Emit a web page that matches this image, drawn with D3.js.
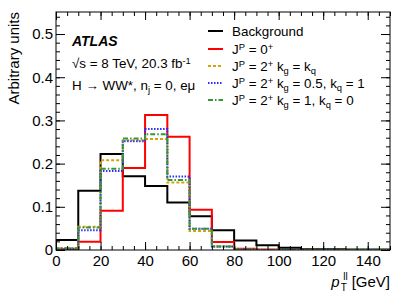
<!DOCTYPE html>
<html>
<head>
<meta charset="utf-8">
<script src="https://cdn.jsdelivr.net/npm/d3@7"></script>
<style>
  body { margin: 0; background: #fff; }
  text { font-family: "Liberation Sans", Arial, Helvetica, sans-serif; fill: #000; }
</style>
</head>
<body>
<script>
// bin edges of the pT(ll) histogram (GeV)
var binEdges = [0, 10, 20, 30, 40, 50, 60, 70, 80, 90, 100, 110, 120, 130, 140, 150];

// normalised contents per bin
var background = [0.023, 0.137, 0.222, 0.171, 0.148, 0.110, 0.078, 0.046, 0.022, 0.011, 0.005, 0.002, 0.002, 0.001, 0.001];
var spin0 = [0.002, 0.019, 0.091, 0.190, 0.3125, 0.262, 0.093, 0.0185, 0.003, 0.001, 0, 0, 0, 0, 0];
var spin2kgkq = [0.004, 0.054, 0.208, 0.254, 0.257, 0.156, 0.044, 0.008, 0.001, 0, 0, 0, 0, 0, 0];
var spin2kg05 = [0.003, 0.046, 0.183, 0.252, 0.280, 0.170, 0.049, 0.008, 0.001, 0, 0, 0, 0, 0, 0];
var spin2kg1 = [0.004, 0.052, 0.188, 0.258, 0.268, 0.162, 0.049, 0.008, 0.001, 0, 0, 0, 0, 0, 0];

var xTicks = [0, 20, 40, 60, 80, 100, 120, 140];
var yTicks = [0, 0.1, 0.2, 0.3, 0.4, 0.5];

// legend labels: [text, "", "sup" or "sub"]
var legendLabels = [
  [["Background", ""]],
  [["J", ""], ["P", "sup"], [" = 0", ""], ["+", "sup"]],
  [["J", ""], ["P", "sup"], [" = 2", ""], ["+", "sup"], [" k", ""], ["g", "sub"], [" = k", ""], ["q", "sub"]],
  [["J", ""], ["P", "sup"], [" = 2", ""], ["+", "sup"], [" k", ""], ["g", "sub"], [" = 0.5, k", ""], ["q", "sub"], [" = 1", ""]],
  [["J", ""], ["P", "sup"], [" = 2", ""], ["+", "sup"], [" k", ""], ["g", "sub"], [" = 1, k", ""], ["q", "sub"], [" = 0", ""]]
];

var series = [background, spin0, spin2kgkq, spin2kg05, spin2kg1];
var colors = ["#000000", "#ff0000", "#d4a20c", "#2b2bff", "#339933"];
var dashes = [null, null, "3,2", "1.5,1.5", "5,2,1.5,2"];

// set the dimensions and margins of the graph
var margin = {top: 12, right: 17, bottom: 42, left: 56},
    width = 407 - margin.left - margin.right,
    height = 292 - margin.top - margin.bottom;

var x = d3.scaleLinear().domain([0, 150]).range([0, width]);
var y = d3.scaleLinear().domain([0, 0.551]).range([height, 0]);

var svg = d3.select("body").append("svg")
    .attr("width", 407)
    .attr("height", 292);

var g = svg.append("g")
    .attr("transform", "translate(" + margin.left + "," + margin.top + ")");

g.append("clipPath").attr("id", "clip")
  .append("rect").attr("width", width).attr("height", height);

// histogram outline as a step line
function stepPoints(vals) {
  var pts = [[binEdges[0], 0]];
  for (var i = 0; i < vals.length; i++) pts.push([binEdges[i], vals[i]]);
  pts.push([binEdges[binEdges.length - 1], vals[vals.length - 1]]);
  return pts;
}
var stepLine = d3.line()
    .x(function(d) { return x(d[0]); })
    .y(function(d) { return y(d[1]); })
    .curve(d3.curveStepAfter);

for (var i = 0; i < series.length; i++) {
  g.append("path")
      .datum(stepPoints(series[i]))
      .attr("clip-path", "url(#clip)")
      .attr("fill", "none")
      .attr("stroke", colors[i])
      .attr("stroke-width", 2)
      .attr("stroke-dasharray", dashes[i])
      .attr("d", stepLine);
}

// axes, ticks pointing inward on all sides
var xMinor = d3.range(0, 151, 5);
var yMinor = d3.range(0, 0.551, 0.02);

function styleAxis(sel) {
  sel.select(".domain").remove();
  sel.selectAll("line").attr("stroke", "#000").attr("stroke-width", 1);
  sel.selectAll("text").style("font-size", "15px")
     .style("font-family", "'Liberation Sans', Arial, sans-serif");
}

g.append("g").attr("transform", "translate(0," + height + ")")
    .call(d3.axisBottom(x).tickValues(xMinor).tickSize(-4).tickFormat(""))
    .call(styleAxis);
g.append("g").attr("transform", "translate(0," + height + ")")
    .call(d3.axisBottom(x).tickValues(xTicks).tickSize(-8).tickPadding(5).tickFormat(d3.format("d")))
    .call(styleAxis);
g.append("g")
    .call(d3.axisTop(x).tickValues(xMinor).tickSize(-4).tickFormat(""))
    .call(styleAxis);
g.append("g")
    .call(d3.axisTop(x).tickValues(xTicks).tickSize(-8).tickFormat(""))
    .call(styleAxis);

g.append("g")
    .call(d3.axisLeft(y).tickValues(yMinor).tickSize(-4).tickFormat(""))
    .call(styleAxis);
g.append("g")
    .call(d3.axisLeft(y).tickValues(yTicks).tickSize(-9).tickPadding(3)
      .tickFormat(function(d) { return d === 0 ? "0" : d3.format(".1f")(d); }))
    .call(styleAxis);
g.append("g").attr("transform", "translate(" + width + ",0)")
    .call(d3.axisRight(y).tickValues(yMinor).tickSize(-4).tickFormat(""))
    .call(styleAxis);
g.append("g").attr("transform", "translate(" + width + ",0)")
    .call(d3.axisRight(y).tickValues(yTicks).tickSize(-9).tickFormat(""))
    .call(styleAxis);

// frame
g.append("rect")
    .attr("width", width).attr("height", height)
    .attr("fill", "none").attr("stroke", "#000").attr("stroke-width", 1);

// rich text helper for sub/superscripts
function richText(sel, parts, size) {
  parts.forEach(function(p) {
    var t = sel.append("tspan").text(p[0]);
    if (p[1] === "sup") t.attr("baseline-shift", "40%").style("font-size", (size * 0.7) + "px");
    else if (p[1] === "sub") t.attr("baseline-shift", "-30%").style("font-size", (size * 0.7) + "px");
  });
}

// x axis title: p, with stacked ll / T, then [GeV]
var gev = svg.append("text")
    .attr("x", 390).attr("y", 287)
    .attr("text-anchor", "end")
    .style("font-size", "15px")
    .text("[GeV]");
var gevLeft = 390 - gev.node().getComputedTextLength();
svg.append("text")
    .attr("x", gevLeft - 4).attr("y", 280)
    .attr("text-anchor", "end")
    .style("font-size", "10px")
    .text("ll");
svg.append("text")
    .attr("x", gevLeft - 11).attr("y", 291)
    .style("font-size", "10px")
    .text("T");
svg.append("text")
    .attr("x", gevLeft - 12).attr("y", 287)
    .attr("text-anchor", "end")
    .style("font-size", "15px")
    .style("font-style", "italic")
    .text("p");

svg.append("text")
    .attr("transform", "translate(19,12) rotate(-90)")
    .attr("text-anchor", "end")
    .style("font-size", "15px")
    .text("Arbitrary units");

// ATLAS label
svg.append("text")
    .attr("x", 72).attr("y", 46)
    .style("font-size", "14px")
    .style("font-weight", "bold")
    .style("font-style", "italic")
    .text("ATLAS");
var s1 = svg.append("text").attr("x", 72).attr("y", 68).style("font-size", "13.4px");
richText(s1, [["\u221As = 8 TeV, 20.3 fb", ""], ["-1", "sup"]], 13.4);
var s2 = svg.append("text").attr("x", 72).attr("y", 90).style("font-size", "13.4px");
richText(s2, [["H \u2192 WW*, n", ""], ["j", "sub"], [" = 0, e\u03BC", ""]], 13.4);

// legend
var rowY = [31, 49, 66, 83, 100];
for (var k = 0; k < legendLabels.length; k++) {
  svg.append("line")
      .attr("x1", 208).attr("x2", 223)
      .attr("y1", rowY[k]).attr("y2", rowY[k])
      .attr("stroke", colors[k])
      .attr("stroke-width", 2)
      .attr("stroke-dasharray", dashes[k]);
  var lt = svg.append("text")
      .attr("x", 232).attr("y", rowY[k] + 5)
      .style("font-size", "13.4px");
  richText(lt, legendLabels[k], 13.4);
}
</script>
</body>
</html>
